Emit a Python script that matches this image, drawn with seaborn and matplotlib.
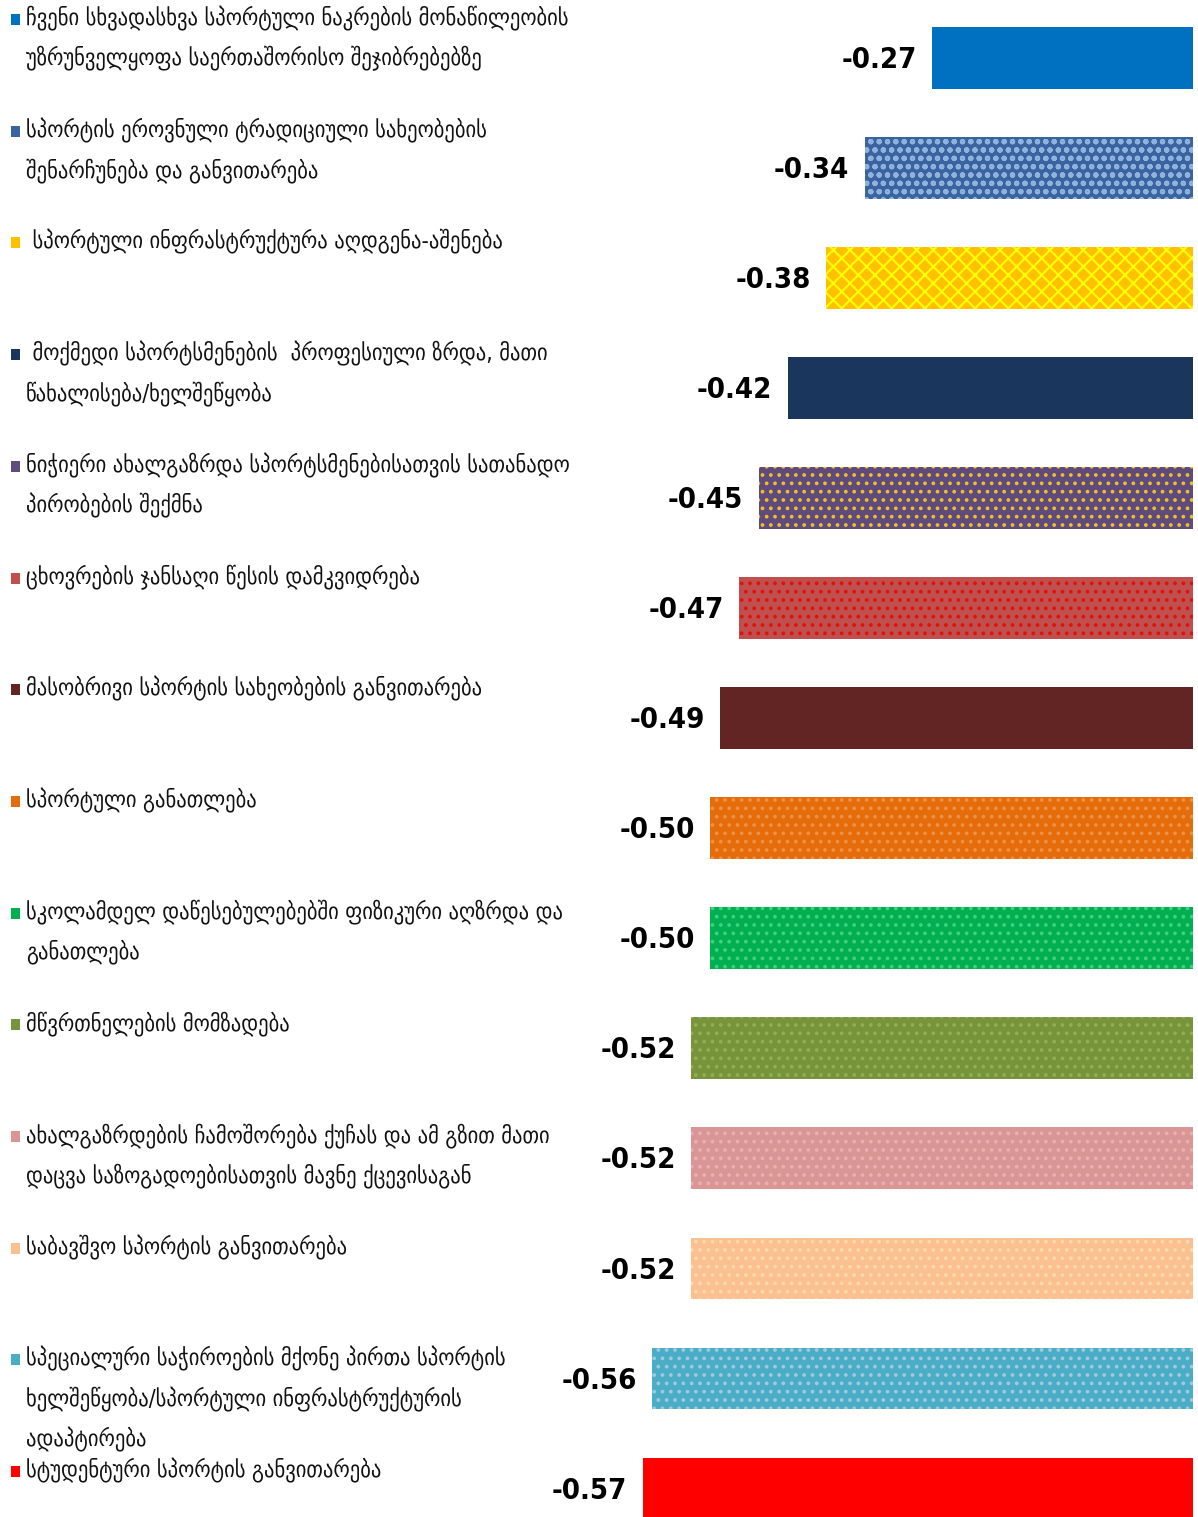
import matplotlib
matplotlib.use("Agg")
import matplotlib.pyplot as plt
import seaborn as sns
from matplotlib.patches import Rectangle

# data
labels = [
    "ჩვენი სხვადასხვა სპორტული ნაკრების მონაწილეობის\nუზრუნველყოფა საერთაშორისო შეჯიბრებებზე",
    "სპორტის ეროვნული ტრადიციული სახეობების\nშენარჩუნება და განვითარება",
    " სპორტული ინფრასტრუქტურა აღდგენა-აშენება",
    " მოქმედი სპორტსმენების  პროფესიული ზრდა, მათი\nწახალისება/ხელშეწყობა",
    "ნიჭიერი ახალგაზრდა სპორტსმენებისათვის სათანადო\nპირობების შექმნა",
    "ცხოვრების ჯანსაღი წესის დამკვიდრება",
    "მასობრივი სპორტის სახეობების განვითარება",
    "სპორტული განათლება",
    "სკოლამდელ დაწესებულებებში ფიზიკური აღზრდა და\nგანათლება",
    "მწვრთნელების მომზადება",
    "ახალგაზრდების ჩამოშორება ქუჩას და ამ გზით მათი\nდაცვა საზოგადოებისათვის მავნე ქცევისაგან",
    "საბავშვო სპორტის განვითარება",
    "სპეციალური საჭიროების მქონე პირთა სპორტის\nხელშეწყობა/სპორტული ინფრასტრუქტურის\nადაპტირება",
    "სტუდენტური სპორტის განვითარება",
]
values = [-0.27, -0.34, -0.38, -0.42, -0.45, -0.47, -0.49, -0.50, -0.50, -0.52, -0.52, -0.52, -0.56, -0.57]
colors = ["#0070C0", "#3A64A0", "#FFC000", "#1B365C", "#5F4A7E", "#C0504D", "#632523",
          "#E46C0A", "#00B050", "#77933C", "#D99694", "#FAC090", "#4BACC6", "#FF0000"]
# hatch pattern and hatch colour per bar
hatches = [None, "oo", "xx", None, "..", "..", None, "..", "..", "..", "..", "..", "..", None]
hatch_cols = [None, "#8FB2DE", "#FFFF00", None, "#F0C020", "#E01010", None, "#F09040",
              "#40D080", "#90B050", "#E8B0B0", "#FFD8B0", "#9ACBE0", None]

sns.set_style("white")
plt.rcParams["font.family"] = ["DejaVu Sans"]
plt.rcParams["hatch.linewidth"] = 1.5

W, H = 1198, 1517
fig = plt.figure(figsize=(W / 100, H / 100), dpi=100)
ax = fig.add_axes([0, 0, 1193 / W, 1])

ids = [str(i) for i in range(len(values))]
sns.barplot(x=values, y=ids, hue=ids, palette=colors, orient="h", width=0.56,
            legend=False, ax=ax, saturation=1)

for bar, h, hc in zip(ax.patches, hatches, hatch_cols):
    bar.set_linewidth(0)
    if h:
        bar.set_hatch(h)
        bar.set_edgecolor(hc)

ax.set_xlim(-1.236, 0)
ax.set_ylim(13.26, -0.527)
ax.axis("off")

# value labels
for i, v in enumerate(values):
    ax.text(v - 0.016, i + 0.02, f"{v:.2f}", ha="right", va="center", fontsize=21,
            fontweight="bold", fontstretch="condensed", color="#000000")

# legend on the left
for i, (lab, c) in enumerate(zip(labels, colors)):
    yc = 20 + 111.7 * i
    fig.add_artist(Rectangle((11 / W, 1 - (yc + 5) / H), 9 / W, 11 / H,
                             transform=fig.transFigure, color=c, lw=0))
    fig.text(26 / W, 1 - (yc - 14) / H, lab, ha="left", va="top", fontsize=16.5,
             linespacing=1.78, fontstretch="condensed", color="#111111")

fig.savefig("out.png", dpi=100)
